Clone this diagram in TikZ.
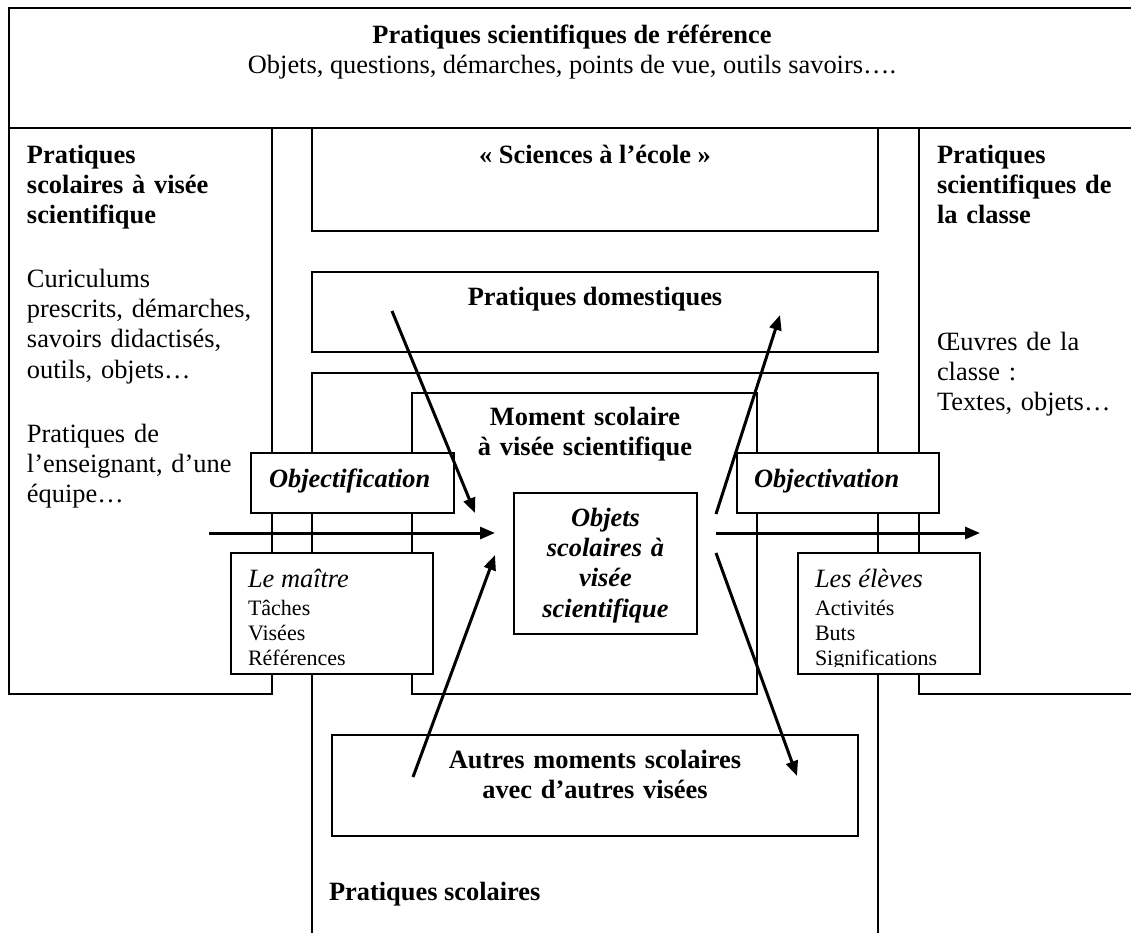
\documentclass[tikz,border=0pt]{standalone}
\usepackage{fontspec}
\setmainfont{Liberation Serif}
\usetikzlibrary{arrows.meta}
\begin{document}
\begin{tikzpicture}[x=1pt,y=-1pt,
  box/.style={draw=black,line width=1.4pt},
  wbox/.style={draw=black,fill=white,line width=1.4pt},
  arr/.style={line width=3pt,-{Triangle[length=15pt,width=12pt]}},
  big/.style={inner sep=0pt,outer sep=0pt,font=\fontsize{26.4}{30.4}\selectfont},
  small/.style={inner sep=0pt,outer sep=0pt,font=\fontsize{22}{25.3}\selectfont},
  lefttxt/.style={anchor=base west,text width=#1,align=left},
  ctrtxt/.style={anchor=base,text width=#1,align=center}
]
\useasboundingbox (0,0) rectangle (1131,932);
\clip (0,0) rectangle (1131,932);

% frames
\draw[box] (9,8) rectangle (1145,128);
\draw[box] (9,128) rectangle (272,694);
\draw[box] (919,128) rectangle (1145,694);
\draw[box] (312,128) rectangle (878,231);
\draw[box] (312,272) rectangle (878,352);
\draw[box] (312,373) rectangle (878,950);
\draw[box] (412,393) rectangle (757,694);

% white boxes
\draw[wbox] (251,453) rectangle (454,513);
\draw[wbox] (231,553) rectangle (433,674);
\draw[wbox] (514,493) rectangle (697,634);
\draw[wbox] (737,453) rectangle (939,513);
\draw[wbox] (798,553) rectangle (980,674);
\draw[wbox] (332,735) rectangle (858,836);

% texts
\node[big,anchor=base] (titre) at (572,43) {\bfseries Pratiques scientifiques de référence};
\node[big,anchor=base] (soustitre) at (572,73) {Objets, questions, démarches, points de vue, outils savoirs….};

\node[big,lefttxt=245pt] (gtitre) at (27,163) {\bfseries Pratiques\\scolaires à visée\\scientifique};
\node[big,lefttxt=245pt] (gliste) at (27,287) {Curiculums\\prescrits, démarches,\\savoirs didactisés,\\outils, objets…};
\node[big,lefttxt=245pt] (gprat) at (27,442) {Pratiques de\\l’enseignant, d’une\\équipe…};

\node[big,lefttxt=200pt] (dtitre) at (937,163) {\bfseries Pratiques\\scientifiques de\\la classe};
\node[big,lefttxt=200pt] (doeuvres) at (937,350) {Œuvres de la\\classe :\\Textes, objets…};

\node[big,anchor=base] (sciences) at (595,163) {\bfseries « Sciences à l’école »};
\node[big,anchor=base] (domest) at (595,305) {\bfseries Pratiques domestiques};
\node[big,ctrtxt=340pt] (moment) at (585,425) {\bfseries Moment scolaire\\à visée scientifique};
\node[big,ctrtxt=180pt] (objets) at (605.5,526) {\bfseries\itshape Objets\\scolaires à\\visée\\scientifique};
\node[big,anchor=base west] (objectif) at (269,487) {\bfseries\itshape Objectification};
\node[big,anchor=base west] (objectiv) at (754,487) {\bfseries\itshape Objectivation};
\node[big,anchor=base west] (maitre) at (248,587) {\itshape Le maître};
\node[small,lefttxt=180pt] (maitreliste) at (248,615) {Tâches\\Visées\\Références};
\node[big,anchor=base west] (eleves) at (815,587) {\itshape Les élèves};
\begin{scope}
\clip (798,553) rectangle (980,666.5);
\node[small,lefttxt=160pt] (elevesliste) at (815,615) {Activités\\Buts\\Significations};
\end{scope}
\node[big,ctrtxt=500pt] (autres) at (595,768) {\bfseries Autres moments scolaires\\avec d’autres visées};
\node[big,anchor=base west] (pscol) at (329,900) {\bfseries Pratiques scolaires};

% arrow end points
\coordinate (a1s) at (392,311); \coordinate (a1e) at (475,513);
\coordinate (a2s) at (413,777); \coordinate (a2e) at (495,555);
\coordinate (a3s) at (209,533); \coordinate (a3e) at (495,533);
\coordinate (a4s) at (716,533); \coordinate (a4e) at (980,533);
\coordinate (a5s) at (716,514); \coordinate (a5e) at (780,315);
\coordinate (a6s) at (716,553); \coordinate (a6e) at (797,776);

\draw[arr] (a1s) -- (a1e);
\draw[arr] (a2s) -- (a2e);
\draw[arr] (a3s) -- (a3e);
\draw[arr] (a4s) -- (a4e);
\draw[arr] (a5s) -- (a5e);
\draw[arr] (a6s) -- (a6e);
\end{tikzpicture}
\end{document}
